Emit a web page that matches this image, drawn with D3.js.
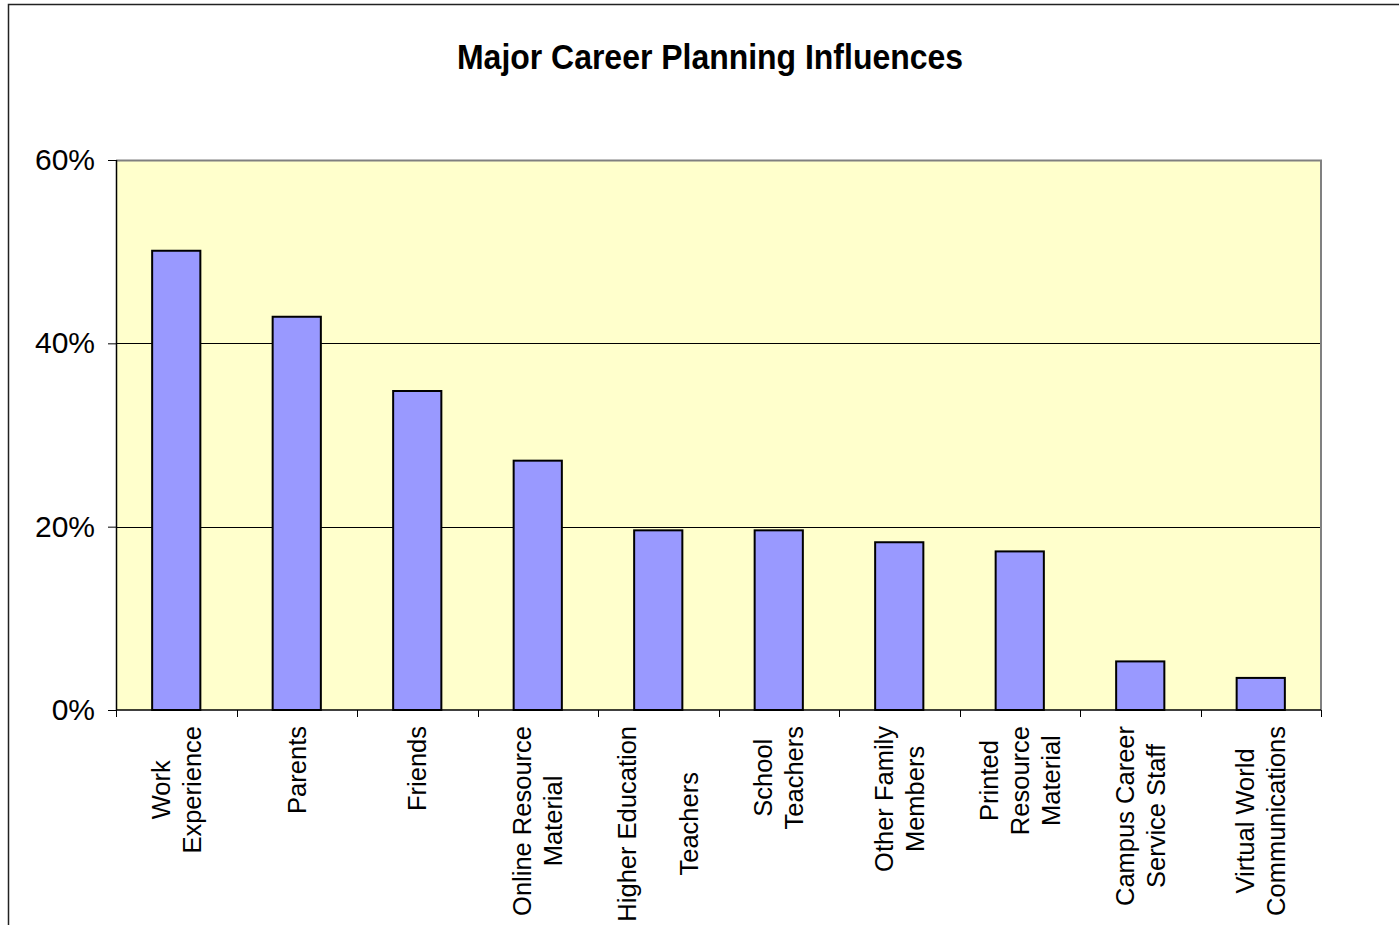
<!DOCTYPE html>
<html>
<head>
<meta charset="utf-8">
<script src="https://cdn.jsdelivr.net/npm/d3@7"></script>
<style>
  html, body { margin: 0; padding: 0; background: #fff; }
  svg { display: block; }
  text { font-family: "Liberation Sans", Arial, sans-serif; fill: #000; }
</style>
</head>
<body>
<svg id="chart" width="1399" height="925"></svg>
<script>
// Share of respondents naming each source as a major career planning influence
const categories = [
  "Work\nExperience",
  "Parents",
  "Friends",
  "Online Resource\nMaterial",
  "Higher Education\n\nTeachers",
  "School\nTeachers",
  "Other Family\nMembers",
  "Printed\nResource\nMaterial",
  "Campus Career\nService Staff",
  "Virtual World\nCommunications"
];
const values = [0.501, 0.429, 0.348, 0.272, 0.196, 0.196, 0.183, 0.173, 0.053, 0.035];
const yTicks = [0, 0.2, 0.4, 0.6];
const title = "Major Career Planning Influences";

const svg = d3.select("#chart");
const plot = { left: 116, top: 160, right: 1321, bottom: 710 };

// outer chart-area frame
svg.append("rect")
  .attr("x", 8.5).attr("y", 4.5)
  .attr("width", 1500).attr("height", 1200)
  .attr("fill", "none").attr("stroke", "#222").attr("stroke-width", 1.5);

// title
svg.append("text")
  .attr("x", 710).attr("y", 69)
  .attr("text-anchor", "middle")
  .style("font-family", "'Liberation Sans Narrow', 'Liberation Sans', Arial, sans-serif")
  .style("font-weight", "bold")
  .style("font-size", "35px")
  .attr("textLength", 506)
  .attr("lengthAdjust", "spacingAndGlyphs")
  .text(title);

const slot = d3.scaleBand().domain(categories).range([plot.left, plot.right]).padding(0);
const xBar = d3.scaleBand().domain(categories).range([plot.left, plot.right])
  .paddingInner(0.6).paddingOuter(0.3);
const y = d3.scaleLinear().domain([0, 0.6]).range([plot.bottom, plot.top]);

// plot background
svg.append("rect")
  .attr("x", plot.left).attr("y", plot.top)
  .attr("width", plot.right - plot.left).attr("height", plot.bottom - plot.top)
  .attr("fill", "#FFFFCC");

// horizontal gridlines
svg.append("g").selectAll("line")
  .data(yTicks.filter(t => t > 0 && t < 0.6))
  .join("line")
  .attr("x1", plot.left).attr("x2", plot.right)
  .attr("y1", d => Math.round(y(d)) + 0.5).attr("y2", d => Math.round(y(d)) + 0.5)
  .attr("stroke", "#000").attr("stroke-width", 1);

// plot border (top and right)
svg.append("path")
  .attr("d", `M${plot.left},${plot.top + 0.5}H${plot.right}V${plot.bottom}`)
  .attr("fill", "none").attr("stroke", "#808080").attr("stroke-width", 2);

// bars
svg.append("g").selectAll("rect")
  .data(categories.map((c, i) => ({ c, v: values[i] })))
  .join("rect")
  .attr("x", d => xBar(d.c))
  .attr("y", d => y(d.v))
  .attr("width", xBar.bandwidth())
  .attr("height", d => y(0) - y(d.v))
  .attr("fill", "#9999FF")
  .attr("stroke", "#000")
  .attr("stroke-width", 2);

// y axis
const yAxis = svg.append("g")
  .attr("transform", `translate(${plot.left},0)`)
  .call(d3.axisLeft(y).tickValues(yTicks).tickFormat(d3.format(".0%")).tickSize(8).tickPadding(13));
yAxis.select(".domain").attr("stroke", "#000").attr("stroke-width", 1.5)
  .attr("d", `M0.5,${plot.top}V${plot.bottom}`);
yAxis.selectAll(".tick line").attr("stroke", "#000").attr("stroke-width", 1);
yAxis.selectAll(".tick text")
  .style("font-family", "'Liberation Sans', Arial, sans-serif")
  .style("font-size", "30px").attr("fill", "#000");

// x axis line and category boundary ticks
const xAxis = svg.append("g");
xAxis.append("line")
  .attr("x1", plot.left).attr("x2", plot.right)
  .attr("y1", plot.bottom).attr("y2", plot.bottom)
  .attr("stroke", "#000").attr("stroke-width", 1.5);
const bounds = categories.map(c => slot(c)).concat([plot.right]);
xAxis.selectAll("line.tick")
  .data(bounds)
  .join("line")
  .attr("class", "tick")
  .attr("x1", d => Math.round(d) + 0.5).attr("x2", d => Math.round(d) + 0.5)
  .attr("y1", plot.bottom).attr("y2", plot.bottom + 7)
  .attr("stroke", "#000").attr("stroke-width", 1);

// rotated category labels, lines centred on the longest line
const lineH = 31;
const labelTop = 726;
categories.forEach(c => {
  const lines = c.split("\n");
  const cx = slot(c) + slot.bandwidth() / 2;
  const g = svg.append("g")
    .attr("transform", `translate(${cx},${labelTop}) rotate(-90)`);
  const texts = lines.map((ln, i) =>
    g.append("text")
      .attr("y", (i - (lines.length - 1) / 2) * lineH + 9)
      .attr("text-anchor", "middle")
      .style("font-size", "25.5px")
      .text(ln)
  );
  const maxLen = d3.max(texts, t => t.node().getComputedTextLength());
  texts.forEach(t => t.attr("x", -maxLen / 2));
});
</script>
</body>
</html>
